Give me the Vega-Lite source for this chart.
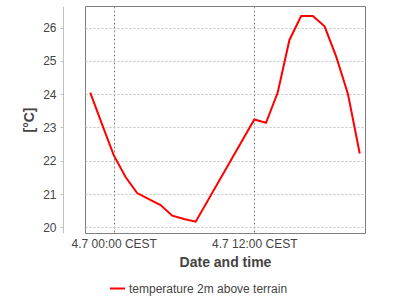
{
  "$schema": "https://vega.github.io/schema/vega-lite/v6.json",
  "autosize": {"type": "none"},
  "padding": {"left": 85, "top": 6, "right": 35, "bottom": 67},
  "width": 280,
  "height": 227,
  "background": "white",
  "config": {
    "view": {"stroke": "#808080", "strokeWidth": 1},
    "font": "Liberation Sans"
  },
  "data": {
    "values": [
      {"time": "2024-07-03T22:00:00Z", "temp": 24.05, "series": "temperature 2m above terrain"},
      {"time": "2024-07-03T23:00:00Z", "temp": 23.1, "series": "temperature 2m above terrain"},
      {"time": "2024-07-04T00:00:00Z", "temp": 22.17, "series": "temperature 2m above terrain"},
      {"time": "2024-07-04T01:00:00Z", "temp": 21.52, "series": "temperature 2m above terrain"},
      {"time": "2024-07-04T02:00:00Z", "temp": 21.03, "series": "temperature 2m above terrain"},
      {"time": "2024-07-04T03:00:00Z", "temp": 20.85, "series": "temperature 2m above terrain"},
      {"time": "2024-07-04T04:00:00Z", "temp": 20.67, "series": "temperature 2m above terrain"},
      {"time": "2024-07-04T05:00:00Z", "temp": 20.35, "series": "temperature 2m above terrain"},
      {"time": "2024-07-04T06:00:00Z", "temp": 20.25, "series": "temperature 2m above terrain"},
      {"time": "2024-07-04T07:00:00Z", "temp": 20.17, "series": "temperature 2m above terrain"},
      {"time": "2024-07-04T12:00:00Z", "temp": 23.24, "series": "temperature 2m above terrain"},
      {"time": "2024-07-04T13:00:00Z", "temp": 23.14, "series": "temperature 2m above terrain"},
      {"time": "2024-07-04T14:00:00Z", "temp": 24.05, "series": "temperature 2m above terrain"},
      {"time": "2024-07-04T15:00:00Z", "temp": 25.63, "series": "temperature 2m above terrain"},
      {"time": "2024-07-04T16:00:00Z", "temp": 26.35, "series": "temperature 2m above terrain"},
      {"time": "2024-07-04T17:00:00Z", "temp": 26.35, "series": "temperature 2m above terrain"},
      {"time": "2024-07-04T18:00:00Z", "temp": 26.04, "series": "temperature 2m above terrain"},
      {"time": "2024-07-04T19:00:00Z", "temp": 25.12, "series": "temperature 2m above terrain"},
      {"time": "2024-07-04T20:00:00Z", "temp": 24.0, "series": "temperature 2m above terrain"},
      {"time": "2024-07-04T21:00:00Z", "temp": 22.22, "series": "temperature 2m above terrain"}
    ]
  },
  "mark": {"type": "line", "strokeWidth": 2, "interpolate": "linear"},
  "encoding": {
    "x": {
      "field": "time",
      "type": "temporal",
      "scale": {
        "type": "utc",
        "domain": [
          {"year": 2024, "month": 7, "date": 3, "hours": 21, "minutes": 33, "utc": true},
          {"year": 2024, "month": 7, "date": 4, "hours": 21, "minutes": 27, "utc": true}
        ],
        "nice": false
      },
      "axis": {
        "title": "Date and time",
        "values": [
          {"year": 2024, "month": 7, "date": 4, "hours": 0, "utc": true},
          {"year": 2024, "month": 7, "date": 4, "hours": 12, "utc": true}
        ],
        "labelExpr": "utcFormat(datum.value, '%-d.%-m %H:%M') + ' CEST'",
        "domain": false,
        "ticks": false,
        "labelPadding": 5,
        "labelFont": "Liberation Sans",
        "labelFontSize": 12,
        "labelColor": "#444444",
        "labelFlush": false,
        "grid": true,
        "gridColor": "#888888",
        "gridDash": [2, 2],
        "gridWidth": 1,
        "titleFont": "Liberation Sans",
        "titleFontSize": 14,
        "titleFontWeight": "bold",
        "titleColor": "#444444",
        "titlePadding": 6
      }
    },
    "y": {
      "field": "temp",
      "type": "quantitative",
      "scale": {"domain": [19.83, 26.65], "nice": false, "zero": false},
      "axis": {
        "title": "[°C]",
        "values": [20, 21, 22, 23, 24, 25, 26],
        "offset": 22,
        "domainColor": "#c0c0c0",
        "tickColor": "#c0c0c0",
        "tickSize": 3,
        "labelPadding": 4,
        "labelFont": "Liberation Sans",
        "labelFontSize": 12,
        "labelColor": "#444444",
        "grid": true,
        "gridColor": "#c0c0c0",
        "gridDash": [2, 2],
        "gridWidth": 1,
        "titleFont": "Liberation Sans",
        "titleFontSize": 14,
        "titleFontWeight": "bold",
        "titleColor": "#444444",
        "titlePadding": 6
      }
    },
    "color": {
      "field": "series",
      "type": "nominal",
      "scale": {"range": ["#ff0000"]},
      "legend": {
        "title": null,
        "orient": "none",
        "legendX": 24,
        "legendY": 274,
        "symbolType": "stroke",
        "symbolStrokeWidth": 2,
        "symbolSize": 225,
        "labelFont": "Liberation Sans",
        "labelFontSize": 12,
        "labelColor": "#444444",
        "labelOffset": 3
      }
    }
  }
}
